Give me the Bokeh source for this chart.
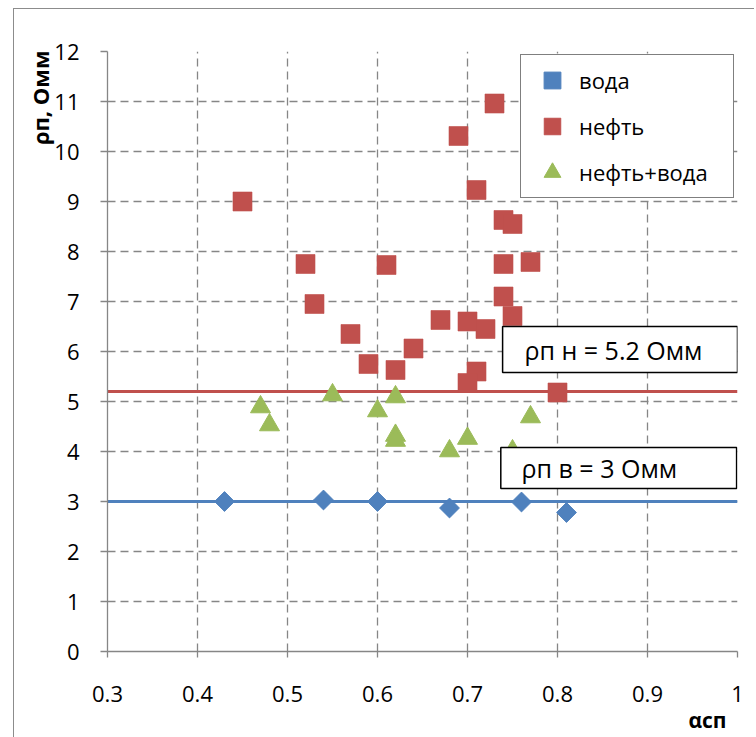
import math
from bokeh.plotting import figure
from bokeh.models import (Range1d, FixedTicker, CustomJSTickFormatter, Legend, LegendItem,
                          Label, BoxAnnotation, Title)
from bokeh.embed import file_html
from bokeh.resources import INLINE

# ---- data ----
water_x = [0.43, 0.54, 0.60, 0.68, 0.76, 0.81]
water_y = [3.00, 3.03, 3.00, 2.87, 2.99, 2.78]

oil_x = [0.45, 0.52, 0.61, 0.53, 0.57, 0.64, 0.59, 0.62, 0.73, 0.69, 0.71, 0.74,
         0.75, 0.74, 0.77, 0.74, 0.75, 0.67, 0.70, 0.72, 0.71, 0.70, 0.80]
oil_y = [9.00, 7.75, 7.73, 6.95, 6.35, 6.06, 5.75, 5.63, 10.96, 10.31, 9.23, 8.63,
         8.55, 7.75, 7.79, 7.10, 6.71, 6.63, 6.60, 6.45, 5.60, 5.37, 5.18]

mix_x = [0.47, 0.48, 0.55, 0.60, 0.62, 0.62, 0.62, 0.68, 0.70, 0.75, 0.77]
mix_y = [4.89, 4.53, 5.13, 4.81, 5.09, 4.32, 4.22, 4.01, 4.26, 4.01, 4.69]

cut_x = [0.3, 1.0]
rho_oil_cut = 5.2
rho_water_cut = 3

x_ticks = [0.3, 0.4, 0.5, 0.6, 0.7, 0.8, 0.9, 1.0]
y_ticks = [0, 1, 2, 3, 4, 5, 6, 7, 8, 9, 10, 11, 12]

series_names = ["вода", "нефть", "нефть+вода"]
y_title = "ρп, Омм"
x_title = "αсп"

BLUE = "#4F81BD"
RED = "#C0504D"
GREEN = "#9BBB59"
GRID = "#868686"
FONT = "Open Sans"

p = figure(x_range=Range1d(0.3, 1.0), y_range=Range1d(0, 12),
           frame_width=630, frame_height=600,
           min_border_left=87, min_border_right=17, min_border_top=42, min_border_bottom=86,
           output_backend="svg", toolbar_location=None, background_fill_color="white",
           border_fill_color="white")
p.outline_line_color = None
p.styles = {"border-left": "1px solid #8c8c8c", "border-top": "1px solid #8c8c8c",
            "margin-left": "13px", "margin-top": "8px", "padding-left": "6px"}

for ax, ticks in ((p.xaxis[0], x_ticks), (p.yaxis[0], y_ticks)):
    ax.ticker = FixedTicker(ticks=ticks)
    ax.axis_line_color = GRID
    ax.axis_line_width = 1.3
    ax.major_tick_line_color = GRID
    ax.major_tick_line_width = 1.3
    ax.major_tick_in = 0
    ax.minor_tick_line_color = None
    ax.major_label_text_font = FONT
    ax.major_label_text_font_size = "22px"
    ax.major_label_text_color = "black"
p.xaxis.major_tick_out = 6
p.yaxis.major_tick_out = 7
p.xaxis.major_label_standoff = 28
p.yaxis.major_label_standoff = 21
p.xaxis.formatter = CustomJSTickFormatter(code="return String(Number(tick.toFixed(1)));")

for g in (p.xgrid[0], p.ygrid[0]):
    g.grid_line_color = GRID
    g.grid_line_width = 1.3
    g.grid_line_dash = "8 5"

# threshold lines
p.line(cut_x, [rho_oil_cut] * len(cut_x), line_color=RED, line_width=3)
p.line(cut_x, [rho_water_cut] * len(cut_x), line_color=BLUE, line_width=3)

r_w = p.scatter(water_x, water_y, marker="square", angle=math.pi / 4, size=14,
                fill_color=BLUE, line_color=BLUE)
r_o = p.scatter(oil_x, oil_y, marker="square", size=19,
                fill_color=RED, line_color=RED, line_alpha=0.6)
r_m = p.scatter(mix_x, mix_y, marker="triangle", size=20,
                fill_color=GREEN, line_color=GREEN)

legend = Legend(items=[LegendItem(label=series_names[0], renderers=[r_w]),
                       LegendItem(label=series_names[1], renderers=[r_o]),
                       LegendItem(label=series_names[2], renderers=[r_m])],
                location="top_right", margin=3, padding=4, spacing=4,
                glyph_width=54, glyph_height=42, label_height=42, label_width=150,
                label_standoff=0,
                label_text_font=FONT, label_text_font_size="22px", label_text_color="black",
                border_line_color="black", border_line_width=1.5,
                background_fill_color="white", background_fill_alpha=1.0)
p.add_layout(legend, "center")

# text boxes for thresholds
box_style = dict(fill_color="white", fill_alpha=1.0, line_color="black", line_width=1.5,
                 line_alpha=1.0, level="annotation")
p.add_layout(BoxAnnotation(left=0.739, right=1.0, top=6.5, bottom=5.58, **box_style))
p.add_layout(BoxAnnotation(left=0.737, right=0.999, top=4.08, bottom=3.26, **box_style))
p.add_layout(Label(x=0.7633, y=6.04, text=f"ρп н = {rho_oil_cut} Омм",
                   text_font=FONT, text_font_size="25px", text_color="black",
                   text_baseline="middle", text_align="left"))
p.add_layout(Label(x=0.76, y=3.67, text=f"ρп в = {rho_water_cut} Омм",
                   text_font=FONT, text_font_size="25px", text_color="black",
                   text_baseline="middle", text_align="left"))

# axis titles
p.add_layout(Title(text=y_title, align="right", offset=-1, standoff=-6,
                   text_font=FONT, text_font_size="22px", text_font_style="bold",
                   text_color="black"), "left")
p.add_layout(Title(text=x_title, align="right", offset=11, standoff=-1,
                   text_font=FONT, text_font_size="21px", text_font_style="bold",
                   text_color="black"), "below")

open("out.html", "w").write(file_html(p, INLINE))
